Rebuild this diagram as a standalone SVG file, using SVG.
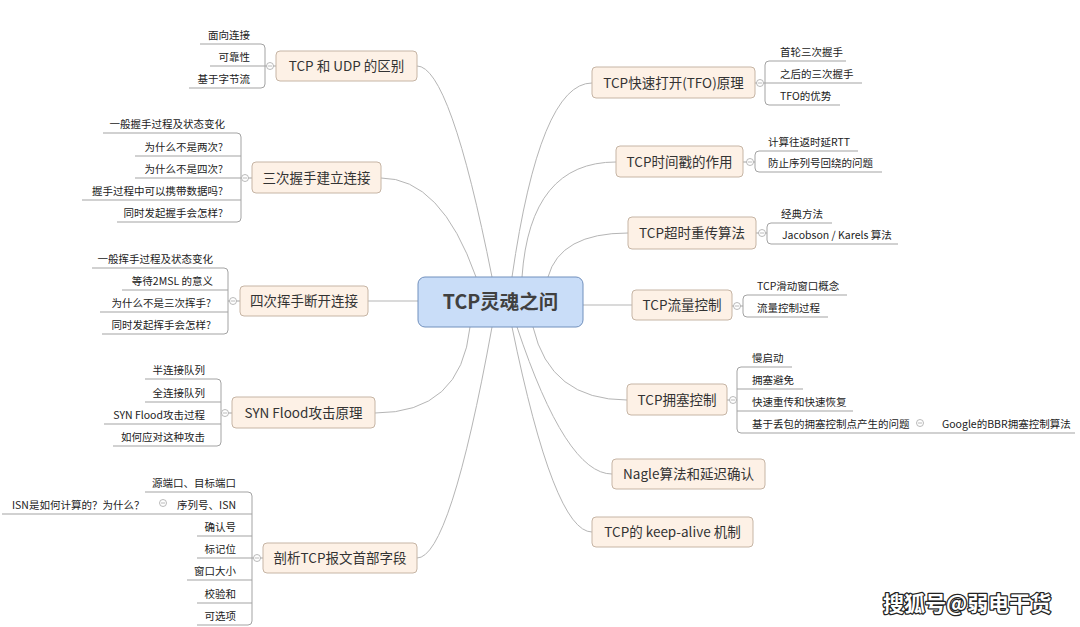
<svg xmlns="http://www.w3.org/2000/svg" width="1080" height="627" viewBox="0 0 1080 627">
<style>
text{font-family:"Noto Sans CJK SC","Microsoft YaHei",sans-serif}
.box{fill:#fdf1e6;stroke:#c6b5a5;stroke-width:1}
.m{font-size:13.5px;fill:#333;text-anchor:middle}
.c{font-size:10.5px;fill:#222}
.e{text-anchor:end}
.br{fill:none;stroke:#a3a3a3;stroke-width:1}
.cn{fill:none;stroke:#b5b5b5;stroke-width:1}
.cc{fill:#fff;stroke:#a8a8a8;stroke-width:0.8}
</style>
<defs>
<g id="col"><circle r="3.5" class="cc"/><path d="M-2 0H2" stroke="#a8a8a8" stroke-width="0.8"/></g>
</defs>
<rect width="1080" height="627" fill="#fff"/>
<g id="connectors" class="cn">
<path d="M417 66Q450 66 492 277"/>
<path d="M381 178Q441 178 476 277"/>
<path d="M368 301H418"/>
<path d="M375 413Q461 413 470 327"/>
<path d="M417 558Q450 558 492 327"/>
<path d="M592 83Q540 83 512 277"/>
<path d="M616 162Q530 162 522 277"/>
<path d="M628 233Q560 233 548 277"/>
<path d="M583 305H632"/>
<path d="M627 400Q550 400 533 327"/>
<path d="M612 474Q566 474 517 327"/>
<path d="M592 532Q554 532 512 327"/>
</g>
<g id="center">
<rect x="418" y="277" width="165" height="50" rx="7" fill="#c9ddf8" stroke="#7190bd" stroke-width="1"/>
<text x="500.5" y="309" font-size="19.5" font-weight="bold" fill="#404040" text-anchor="middle">TCP灵魂之问</text>
</g>
<g id="n-tcp-udp">
<path class="br" d="M200 44H261Q265 44 265 48V84Q265 88 261 88H189M210 66H276"/>
<rect class="box" x="276" y="51" width="141" height="30" rx="4"/>
<text class="m" x="346.5" y="71">TCP 和 UDP 的区别</text>
<use href="#col" x="270" y="66"/>
<text class="c e" x="250" y="39">面向连接</text>
<text class="c e" x="250" y="61">可靠性</text>
<text class="c e" x="250" y="83">基于字节流</text>
</g>
<g id="n-handshake">
<path class="br" d="M103 133H237Q241 133 241 137V218Q241 222 237 222H117M135 156H241M135 178H252M82 200H241"/>
<rect class="box" x="252" y="162" width="129" height="31" rx="4"/>
<text class="m" x="316.5" y="182.5">三次握手建立连接</text>
<use href="#col" x="245" y="178"/>
<text class="c e" x="225" y="128">一般握手过程及状态变化</text>
<text class="c e" x="223" y="151">为什么不是两次?</text>
<text class="c e" x="223" y="173">为什么不是四次?</text>
<text class="c e" x="223" y="195">握手过程中可以携带数据吗?</text>
<text class="c e" x="223" y="217">同时发起握手会怎样?</text>
</g>
<g id="n-wave">
<path class="br" d="M92 268H224Q228 268 228 272V330Q228 334 224 334H102M122 290H228M100 312H228M228 301H240"/>
<rect class="box" x="240" y="286" width="128" height="30" rx="4"/>
<text class="m" x="304" y="306">四次挥手断开连接</text>
<use href="#col" x="233" y="301"/>
<text class="c e" x="213" y="263">一般挥手过程及状态变化</text>
<text class="c e" x="213" y="285">等待2MSL 的意义</text>
<text class="c e" x="211" y="307">为什么不是三次挥手?</text>
<text class="c e" x="211" y="329">同时发起挥手会怎样?</text>
</g>
<g id="n-synflood">
<path class="br" d="M145 379H217Q221 379 221 383V442Q221 446 217 446H113M145 402H221M104 424H221M221 413H232"/>
<rect class="box" x="232" y="397" width="143" height="31" rx="4"/>
<text class="m" x="303.5" y="417.5">SYN Flood攻击原理</text>
<use href="#col" x="225" y="413"/>
<text class="c e" x="205" y="374">半连接队列</text>
<text class="c e" x="205" y="397">全连接队列</text>
<text class="c e" x="205" y="419">SYN Flood攻击过程</text>
<text class="c e" x="205" y="441">如何应对这种攻击</text>
</g>
<g id="n-header">
<path class="br" d="M145 492H248Q252 492 252 496V621Q252 625 248 625H197M2 514H252M197 536H252M197 558H263M187 580H252M197 603H252"/>
<rect class="box" x="263" y="543" width="154" height="30" rx="4"/>
<text class="m" x="340" y="563">剖析TCP报文首部字段</text>
<use href="#col" x="257" y="558"/>
<use href="#col" x="163" y="503"/>
<text class="c e" x="236" y="487">源端口、目标端口</text>
<text class="c e" x="236" y="509">序列号、ISN</text>
<text class="c" x="12" y="509">ISN是如何计算的？为什么？</text>
<text class="c e" x="236" y="531">确认号</text>
<text class="c e" x="236" y="553">标记位</text>
<text class="c e" x="236" y="575">窗口大小</text>
<text class="c e" x="236" y="598">校验和</text>
<text class="c e" x="236" y="620">可选项</text>
</g>
<g id="n-tfo">
<path class="br" d="M846 61H769Q765 61 765 65V101Q765 105 769 105H840M755 83H862"/>
<rect class="box" x="592" y="67" width="163" height="31" rx="4"/>
<text class="m" x="673.5" y="87.5">TCP快速打开(TFO)原理</text>
<use href="#col" x="760" y="83"/>
<text class="c" x="780" y="56">首轮三次握手</text>
<text class="c" x="780" y="78">之后的三次握手</text>
<text class="c" x="780" y="100">TFO的优势</text>
</g>
<g id="n-timestamp">
<path class="br" d="M858 151H759Q755 151 755 155V168Q755 172 759 172H882M743 162H755"/>
<rect class="box" x="616" y="146" width="127" height="31" rx="4"/>
<text class="m" x="679.5" y="166.5">TCP时间戳的作用</text>
<use href="#col" x="750" y="162"/>
<text class="c" x="768" y="146">计算往返时延RTT</text>
<text class="c" x="768" y="167">防止序列号回绕的问题</text>
</g>
<g id="n-rto">
<path class="br" d="M832 223H771Q767 223 767 227V240Q767 244 771 244H898M756 233H767"/>
<rect class="box" x="628" y="217" width="128" height="32" rx="4"/>
<text class="m" x="692" y="238">TCP超时重传算法</text>
<use href="#col" x="762" y="233"/>
<text class="c" x="781" y="218">经典方法</text>
<text class="c" x="782" y="239">Jacobson / Karels 算法</text>
</g>
<g id="n-flow">
<path class="br" d="M847 295H747Q743 295 743 299V313Q743 317 747 317H828M732 306H743"/>
<rect class="box" x="632" y="290" width="100" height="30" rx="4"/>
<text class="m" x="682" y="310">TCP流量控制</text>
<use href="#col" x="737" y="306"/>
<text class="c" x="757" y="290">TCP滑动窗口概念</text>
<text class="c" x="757" y="312">流量控制过程</text>
</g>
<g id="n-congestion">
<path class="br" d="M792 367H741Q737 367 737 371V429Q737 433 741 433H1075M737 389H803M737 411H853M727 400H737"/>
<rect class="box" x="627" y="384" width="100" height="31" rx="4"/>
<text class="m" x="677" y="404.5">TCP拥塞控制</text>
<use href="#col" x="733" y="400"/>
<use href="#col" x="920" y="423"/>
<text class="c" x="752" y="362">慢启动</text>
<text class="c" x="752" y="384">拥塞避免</text>
<text class="c" x="752" y="406">快速重传和快速恢复</text>
<text class="c" x="752" y="428">基于丢包的拥塞控制点产生的问题</text>
<text class="c" x="942" y="428">Google的BBR拥塞控制算法</text>
</g>
<g id="n-nagle">
<rect class="box" x="612" y="459" width="153" height="30" rx="4"/>
<text class="m" x="688.5" y="479">Nagle算法和延迟确认</text>
</g>
<g id="n-keepalive">
<rect class="box" x="592" y="517" width="161" height="30" rx="4"/>
<text class="m" x="672.5" y="537">TCP的 keep-alive 机制</text>
</g>
<text x="883" y="611" font-size="21" font-weight="bold" fill="#fff" stroke="#222" stroke-width="2.5" paint-order="stroke" stroke-linejoin="round">搜狐号@弱电干货</text>
</svg>
